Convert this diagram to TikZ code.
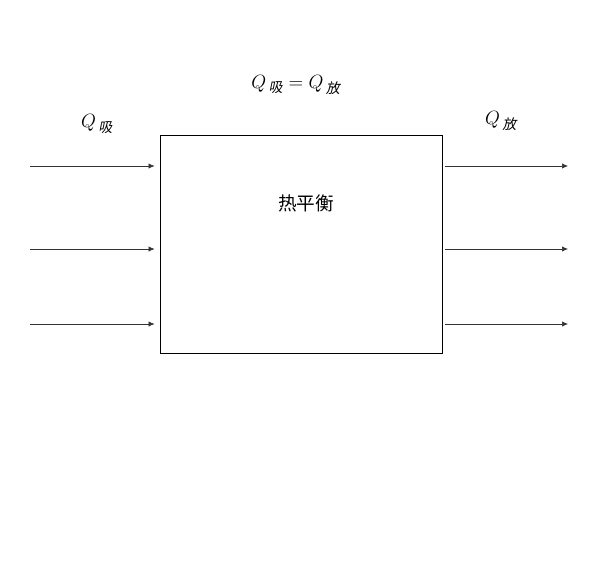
\documentclass[tikz,border=0pt]{standalone}
\usepackage{amsmath}
\usepackage{fontspec}
\usetikzlibrary{arrows.meta}
\newfontfamily\cjk{Noto Sans CJK SC}
\newfontfamily\cjkit[FakeSlant=0.2]{Noto Sans CJK SC}
\newcommand{\sub}[1]{\,\text{\cjkit #1}}
\tikzset{
	flow/.style={-{Latex[length=4.5pt,width=4pt]}, line width=0.5pt, draw=black!80, fill=black},
	label/.style={font=\fontsize{15}{17}\selectfont, inner sep=0pt}
}
\begin{document}
\begin{tikzpicture}[x=0.75pt, y=-0.75pt]
	\useasboundingbox (0,0) rectangle (591,571);

	\node[draw, line width=0.6pt, minimum width=211.5pt, minimum height=163.5pt, inner sep=0pt] (box) at (301,244) {};
	\node[label, font=\fontsize{14}{16}\selectfont\cjk] (name) at (306,203) {热平衡};

	\node[label] (eq) at (296,85) {$Q_{\sub{吸}} = Q_{\sub{放}}$};
	\node[label] (qin) at (97,124) {$Q_{\sub{吸}}$};
	\node[label] (qout) at (501,121) {$Q_{\sub{放}}$};

	\foreach \i / \y in {1/166, 2/249, 3/324}
	{
		\coordinate (in\i) at (30,\y);
		\coordinate (out\i) at (568,\y);
		\draw[flow, shorten >=3.75pt] (in\i) -- (box.west |- in\i);
		\draw[flow, shorten <=2.25pt] (box.east |- out\i) -- (out\i);
	};
\end{tikzpicture}
\end{document}
